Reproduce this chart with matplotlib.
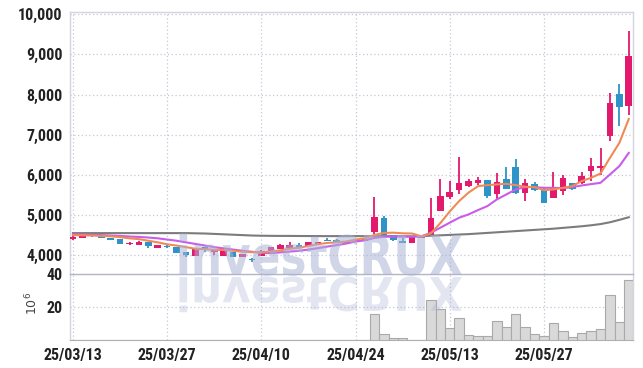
import numpy as np
import matplotlib
matplotlib.use('Agg')
import matplotlib.pyplot as plt
from matplotlib import font_manager
from matplotlib.textpath import TextPath
from matplotlib.patches import PathPatch
from matplotlib.font_manager import FontProperties
from matplotlib.transforms import Affine2D
import datetime as dt

# ---------------- data ----------------
dates = ["2025-03-13", "2025-03-14", "2025-03-17", "2025-03-18", "2025-03-19", "2025-03-20", "2025-03-21",
         "2025-03-24", "2025-03-25", "2025-03-26", "2025-03-27", "2025-03-28", "2025-03-31", "2025-04-01",
         "2025-04-02", "2025-04-03", "2025-04-04", "2025-04-07", "2025-04-08", "2025-04-09", "2025-04-10",
         "2025-04-11", "2025-04-14", "2025-04-15", "2025-04-16", "2025-04-17", "2025-04-18", "2025-04-21",
         "2025-04-22", "2025-04-23", "2025-04-24", "2025-04-25", "2025-04-28", "2025-04-29", "2025-04-30",
         "2025-05-02", "2025-05-07", "2025-05-08", "2025-05-09", "2025-05-12", "2025-05-13", "2025-05-14",
         "2025-05-15", "2025-05-16", "2025-05-19", "2025-05-20", "2025-05-21", "2025-05-22", "2025-05-23",
         "2025-05-26", "2025-05-27", "2025-05-28", "2025-05-29", "2025-05-30", "2025-06-02", "2025-06-04",
         "2025-06-05", "2025-06-09", "2025-06-10", "2025-06-11"]

opens = [4400, 4425, 4550, 4490, 4430, 4410, 4285, 4265, 4325, 4190,
         4240, 4200, 4075, 3990, 4200, 4080, 3990, 4085, 3965, 3910,
         3990, 4050, 4165, 4185, 4265, 4235, 4290, 4390, 4390, 4325,
         4335, 4350, 4585, 4915, 4500, 4365, 4315, 4440, 4495, 5099,
         5447, 5621, 5720, 5787, 5861, 5530, 5886, 6209, 5555, 5762,
         5638, 5431, 5596, 5787, 5787, 6093, 6168, 6962, 8014, 7707]
highs = [4470, 4480, 4555, 4530, 4440, 4415, 4320, 4345, 4335, 4265,
         4245, 4205, 4080, 4180, 4205, 4130, 4175, 4090, 4035, 3940,
         4120, 4205, 4270, 4325, 4300, 4340, 4335, 4440, 4395, 4330,
         4395, 4420, 5440, 4980, 4505, 4420, 4465, 4475, 5430, 5900,
         5845, 6440, 5900, 5944, 5870, 6050, 6200, 6400, 5900, 5820,
         5680, 6068, 5990, 5800, 6068, 6424, 6673, 8039, 8262, 9595]
lows = [4390, 4420, 4465, 4425, 4380, 4285, 4265, 4255, 4180, 4185,
        4190, 4050, 3950, 3985, 4075, 4000, 3985, 3945, 3960, 3840,
        3985, 4045, 4160, 4180, 4210, 4230, 4285, 4350, 4310, 4290,
        4330, 4345, 4540, 4510, 4360, 4310, 4310, 4435, 4480, 5095,
        5390, 5513, 5700, 5737, 5422, 5390, 5640, 5520, 5348, 5600,
        5300, 5425, 5489, 5630, 5780, 5845, 6000, 6838, 7211, 7500]
closes = [4450, 4470, 4470, 4430, 4390, 4290, 4300, 4340, 4225, 4260,
          4195, 4055, 3995, 4175, 4120, 4125, 4170, 3950, 4030, 3880,
          4115, 4200, 4265, 4250, 4215, 4335, 4320, 4355, 4315, 4300,
          4390, 4415, 4950, 4515, 4375, 4315, 4460, 4470, 4934, 5464,
          5571, 5787, 5836, 5861, 5472, 5828, 5654, 5538, 5803, 5621,
          5306, 5679, 5911, 5638, 5969, 6234, 6217, 7790, 7683, 8966]

ma_short = [4500, 4495, 4490, 4480, 4470, 4450, 4420, 4400, 4360, 4320,
            4270, 4240, 4200, 4160, 4150, 4135, 4130, 4110, 4085, 4075,
            4070, 4090, 4120, 4160, 4185, 4230, 4275, 4305, 4320, 4340,
            4390, 4420, 4505, 4555, 4560, 4545, 4540, 4470, 4545, 4800,
            5090, 5350, 5560, 5720, 5745, 5762, 5778, 5745, 5704, 5695,
            5621, 5638, 5679, 5720, 5845, 5927, 6035, 6424, 6797, 7393]
ma_mid = [4520, 4515, 4510, 4500, 4490, 4480, 4465, 4455, 4440, 4420,
          4390, 4360, 4320, 4280, 4240, 4200, 4170, 4140, 4110, 4085,
          4060, 4050, 4070, 4090, 4110, 4140, 4175, 4215, 4250, 4290,
          4340, 4370, 4430, 4460, 4465, 4465, 4460, 4470, 4560, 4685,
          4810, 4934, 5017, 5124, 5224, 5389, 5513, 5638, 5695, 5695,
          5679, 5679, 5670, 5695, 5737, 5770, 5803, 6010, 6217, 6548]
ma_long = [4550, 4550, 4550, 4550, 4550, 4550, 4550, 4550, 4550, 4550,
           4550, 4550, 4550, 4545, 4540, 4530, 4520, 4510, 4500, 4490,
           4485, 4482, 4480, 4480, 4478, 4477, 4476, 4475, 4475, 4475,
           4475, 4475, 4475, 4474, 4473, 4472, 4470, 4475, 4485, 4495,
           4505, 4515, 4525, 4540, 4555, 4570, 4585, 4600, 4615, 4630,
           4645, 4660, 4680, 4700, 4720, 4745, 4775, 4820, 4880, 4945]

volume = [0.3, 0.2, 0.3, 0.2, 0.2, 0.3, 0.2, 0.2, 0.3, 0.2,
          0.2, 0.3, 0.3, 0.2, 0.3, 0.2, 0.3, 0.3, 0.2, 0.2,
          0.3, 0.2, 0.3, 0.2, 0.2, 0.2, 0.2, 0.3, 0.2, 0.2,
          0.2, 0.3, 15.8, 3.6, 1.0, 1.0, 0.3, 0.3, 24.6, 18.6,
          7.1, 13.1, 2.8, 2.2, 2.2, 11.5, 7.7, 15.6, 7.7, 3.4,
          2.2, 10.1, 5.5, 1.6, 4.2, 5.5, 6.5, 27.3, 10.9, 36.4]

price_ticks = [4000, 5000, 6000, 7000, 8000, 9000, 10000]
volume_ticks = [20, 40]
date_tick_step = 10
volume_unit = r'$10^6$'
watermark = 'investCRUX'

# ---------------- style ----------------
avail = {f.name for f in font_manager.fontManager.ttflist}
tick_font = 'DejaVu Sans'
for cand in ['Liberation Sans Narrow', 'Roboto Condensed', 'Open Sans Condensed', 'Roboto']:
    if cand in avail:
        tick_font = cand
        break
plt.rcParams['font.family'] = [tick_font, 'DejaVu Sans']

RED = '#e2196c'
BLUE = '#2d93c8'
GRID = '#c3c8da'
W, H = 643, 368

fig = plt.figure(figsize=(W / 100, H / 100), dpi=100)
fig.patch.set_facecolor('white')
L, R = 69.5, 633
top_px, mid_px, bot_px = 11.7, 274.3, 340.0
ax = fig.add_axes([L / W, 1 - mid_px / H, (R - L) / W, (mid_px - top_px) / H])
vol = fig.add_axes([L / W, 1 - bot_px / H, (R - L) / W, (bot_px - mid_px) / H], sharex=ax)

x = np.arange(len(dates))
o, h, l, c = (np.array(a, dtype=float) for a in (opens, highs, lows, closes))
cols = np.where(c >= o, RED, BLUE)

ax.vlines(x, l, h, colors=cols, linewidth=1.3, zorder=3)
ax.bar(x, np.maximum(np.abs(c - o), 12), bottom=np.minimum(o, c), width=0.7,
       color=cols, linewidth=0, zorder=4)
ax.plot(x, ma_long, color='#7c7c7c', lw=1.5, zorder=5)
ax.plot(x, ma_mid, color='#c95ce8', lw=1.5, zorder=6)
ax.plot(x, ma_short, color='#f08a55', lw=1.5, zorder=7)

vol.bar(x, volume, width=1.0, color='#d9d9d9', edgecolor='#a9a9a9', linewidth=0.8, zorder=3)

ax.set_xlim(-0.37, 59.45)
ax.set_ylim(3524, 10065)
vol.set_ylim(0, 40)

tick_pos = list(range(0, len(dates), date_tick_step))
tick_lab = [dt.date.fromisoformat(dates[i]).strftime('%y/%m/%d') for i in tick_pos]
vol.set_xticks(tick_pos)
vol.set_xticklabels(tick_lab)
ax.set_yticks(price_ticks)
ax.set_yticklabels([f'{v:,}' for v in price_ticks])
vol.set_yticks(volume_ticks)
vol.set_yticklabels([str(v) for v in volume_ticks])

for a in (ax, vol):
    a.grid(True, color=GRID, linestyle=(0, (1, 2)), linewidth=0.9, zorder=0)
    a.set_axisbelow(True)
    a.tick_params(length=0, labelsize=11.5, labelcolor='#222222', pad=5)
    for s in ('left', 'right', 'top'):
        a.spines[s].set_color('#d3d5de')
        a.spines[s].set_linewidth(1.0)
ax.tick_params(axis='x', labelbottom=False)
ax.spines['bottom'].set_visible(False)
vol.spines['top'].set_color('#b3b6c4')
vol.spines['bottom'].set_color('#b0b0b0')
vol.tick_params(axis='x', pad=6)
for lab in ax.get_yticklabels() + vol.get_yticklabels() + vol.get_xticklabels():
    lab.set_fontweight('bold')

vol.text(-0.066, 0.55, volume_unit, rotation=90, transform=vol.transAxes,
         ha='center', va='center', fontsize=9, color='#444444', family='DejaVu Sans')

# ---------------- watermark ----------------
wm = fig.add_axes([0, 0, 1, 1], zorder=10)
wm.set_xlim(0, W)
wm.set_ylim(H, 0)
wm.axis('off')
wm.patch.set_visible(False)
tp = TextPath((0, 0), watermark, size=100, prop=FontProperties(family='DejaVu Sans', weight='bold'))
ext = tp.get_extents()
x0, x1, base, topy = 179.5, 462.0, 275.0, 233.5
sx = (x1 - x0) / ext.width
sy = (base - topy) / ext.y1
up_tr = Affine2D().translate(-ext.x0, 0).scale(sx, -sy).translate(x0, base)
wm.add_patch(PathPatch(up_tr.transform_path(tp), facecolor='#aab3d6', edgecolor='none', alpha=0.55))
dn_tr = Affine2D().translate(-ext.x0, 0).scale(sx, sy * 0.85).translate(x0, base + 2)
wm.add_patch(PathPatch(dn_tr.transform_path(tp), facecolor='#aab3d6', edgecolor='none', alpha=0.32))

fig.savefig('out.png', dpi=100)
